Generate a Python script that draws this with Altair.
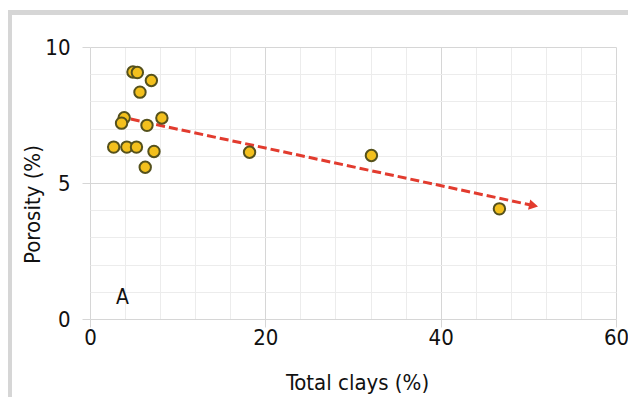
import altair as alt
import pandas as pd

# ---- data ----
clays = [4.9, 5.4, 7.0, 5.7, 3.9, 3.6, 6.5, 8.2, 2.7, 4.2, 5.3, 7.3, 6.3, 18.2, 32.1, 46.7]
porosity = [9.08, 9.06, 8.77, 8.34, 7.40, 7.20, 7.12, 7.39, 6.32, 6.32, 6.32, 6.16, 5.58, 6.13, 6.01, 4.05]

trend_x = [3.2, 50.6]
trend_y = [7.45, 4.17]

label_text = ["A"]
label_x = [3.7]
label_y = [0.78]

x_ticks = list(range(0, 61, 4))
y_ticks = list(range(0, 11, 1))

FONT = "Liberation Sans Narrow, DejaVu Sans Condensed, sans-serif"

pts = pd.DataFrame({"clays": clays, "porosity": porosity})
trend = pd.DataFrame({"clays": trend_x, "porosity": trend_y})
head = trend.iloc[[1]]
lab = pd.DataFrame({"clays": label_x, "porosity": label_y, "t": label_text})

xscale = alt.Scale(domain=[0, 60], nice=False, zero=False)
yscale = alt.Scale(domain=[0, 10], nice=False, zero=False)

W, H = 526, 272

xaxis = alt.Axis(
    values=x_ticks, tickCount=40, format="d",
    labelExpr="datum.value % 20 === 0 ? datum.label : ''",
    labelOverlap=False, labelFlush=False,
    gridColor=alt.condition("datum.value % 20 === 0", alt.value("#d6d6d6"), alt.value("#ececec")),
    tickColor=alt.condition("datum.value % 20 === 0", alt.value("#d6d6d6"), alt.value("transparent")),
    tickSize=8,
    domain=False,
    labelFont=FONT, labelFontSize=22, labelColor="#111", labelPadding=0,
    title="Total clays (%)", titleFont=FONT, titleFontSize=22, titleFontWeight="normal",
    titleColor="#111", titleX=267, titleY=63, titleBaseline="middle", titleAlign="center",
)
yaxis = alt.Axis(
    values=y_ticks, tickCount=40, format="d",
    labelExpr="datum.value % 5 === 0 ? datum.label : ''",
    labelOverlap=False, labelFlush=False,
    gridColor=alt.condition("datum.value % 5 === 0", alt.value("#d6d6d6"), alt.value("#ececec")),
    tickColor=alt.condition("datum.value % 5 === 0", alt.value("#d6d6d6"), alt.value("transparent")),
    tickSize=8,
    domain=False,
    labelFont=FONT, labelFontSize=22, labelColor="#111", labelPadding=12,
    title="Porosity (%)", titleFont=FONT, titleFontSize=22, titleFontWeight="normal",
    titleColor="#111", titleX=-58, titleY=157, titleBaseline="middle", titleAlign="center",
    titleAngle=270,
)

base_x = alt.X("clays:Q", scale=xscale, axis=xaxis)
base_y = alt.Y("porosity:Q", scale=yscale, axis=yaxis)

frame_top = alt.Chart(pd.DataFrame({"a": [0]})).mark_rule(color="#d6d6d6", strokeWidth=5).encode(
    x=alt.value(-83), x2=alt.value(560), y=alt.value(-34.5)
)
frame_left = alt.Chart(pd.DataFrame({"a": [0]})).mark_rule(color="#d6d6d6", strokeWidth=5).encode(
    x=alt.value(-80.5), y=alt.value(-37), y2=alt.value(358)
)

line = alt.Chart(trend).mark_line(color="#e23b2e", strokeWidth=3, strokeDash=[9, 4]).encode(
    x=base_x, y=base_y
)
arrow = alt.Chart(head).mark_point(
    shape="triangle-right", filled=True, color="#e23b2e", size=110, angle=12, opacity=1
).encode(x=alt.X("clays:Q", scale=xscale), y=alt.Y("porosity:Q", scale=yscale))

points = alt.Chart(pts).mark_circle(
    size=130, color="#f3c01d", stroke="#55511c", strokeWidth=2, opacity=1
).encode(x=alt.X("clays:Q", scale=xscale), y=alt.Y("porosity:Q", scale=yscale))

text = alt.Chart(lab).mark_text(font=FONT, fontSize=21, color="#111").encode(
    x=alt.X("clays:Q", scale=xscale), y=alt.Y("porosity:Q", scale=yscale), text="t:N"
)

chart = alt.layer(line, arrow, points, text, frame_top, frame_left).properties(
    width=W, height=H,
    autosize=alt.AutoSizeParams(type="none"),
    padding={"left": 82, "top": 39, "right": 12, "bottom": 78},
    background="white",
).configure_view(stroke=None)

chart.save("out.html", embed_options={"renderer": "svg", "actions": False})
